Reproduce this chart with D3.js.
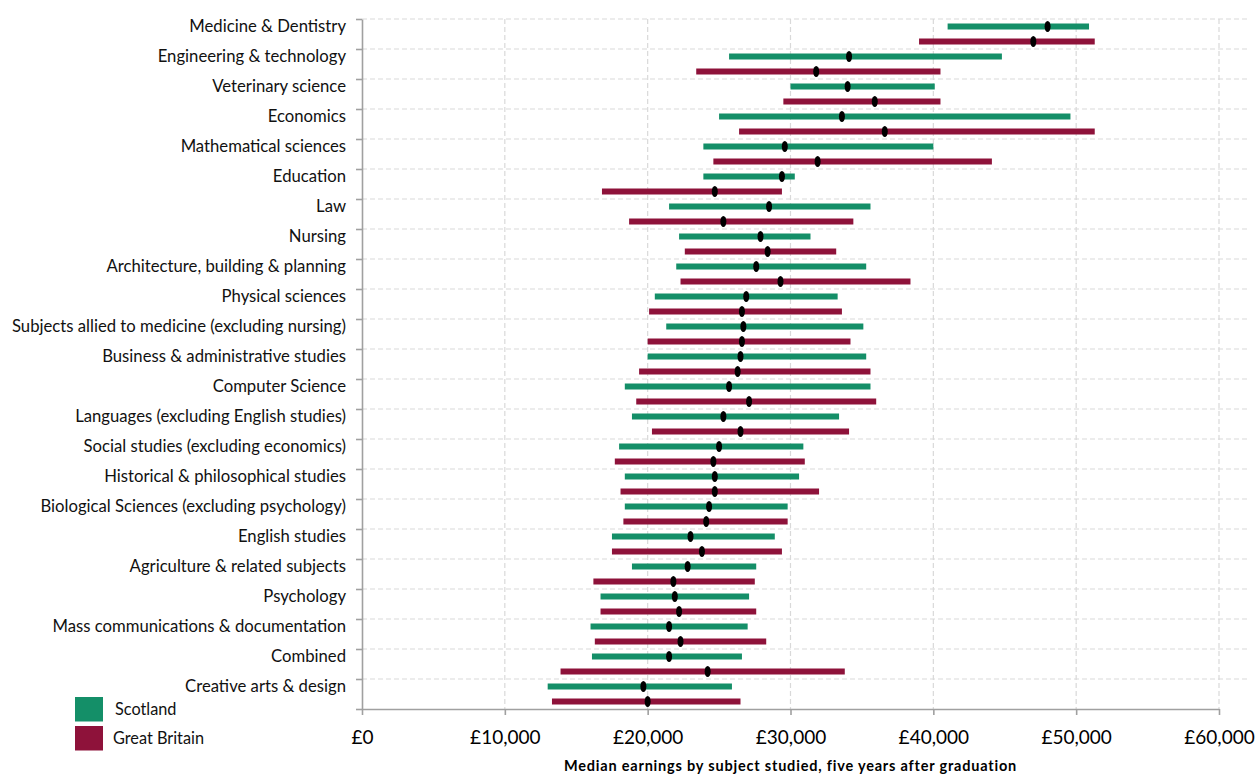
<!DOCTYPE html>
<html>
<head>
<meta charset="utf-8">
<script src="https://cdn.jsdelivr.net/npm/d3@7"></script>
<style>
  body { margin: 0; background: #fff; }
  svg { display: block; font-family: Lato, "Open Sans", sans-serif; }
</style>
</head>
<body>
<div id="chart"></div>
<script>
const subjects = [
  'Medicine & Dentistry', 'Engineering & technology', 'Veterinary science', 'Economics',
  'Mathematical sciences', 'Education', 'Law', 'Nursing', 'Architecture, building & planning',
  'Physical sciences', 'Subjects allied to medicine (excluding nursing)', 'Business & administrative studies',
  'Computer Science', 'Languages (excluding English studies)', 'Social studies (excluding economics)',
  'Historical & philosophical studies', 'Biological Sciences (excluding psychology)', 'English studies',
  'Agriculture & related subjects', 'Psychology', 'Mass communications & documentation', 'Combined',
  'Creative arts & design'
];

// Scotland: lower, median, upper earnings
const scotLow    = [41000, 25700, 30000, 25000, 23900, 23900, 21500, 22200, 22000, 20500, 21300, 20000, 18400, 18900, 18000, 18400, 18400, 17500, 18900, 16700, 16000, 16100, 13000];
const scotMedian = [48000, 34100, 34000, 33600, 29600, 29400, 28500, 27900, 27600, 26900, 26700, 26500, 25700, 25300, 25000, 24700, 24300, 23000, 22800, 21900, 21500, 21500, 19700];
const scotHigh   = [50900, 44800, 40100, 49600, 40000, 30300, 35600, 31400, 35300, 33300, 35100, 35300, 35600, 33400, 30900, 30600, 29800, 28900, 27600, 27100, 27000, 26600, 25900];

// Great Britain
const gbLow    = [39000, 23400, 29500, 26400, 24600, 16800, 18700, 22600, 22300, 20100, 20000, 19400, 19200, 20300, 17700, 18100, 18300, 17500, 16200, 16700, 16300, 13900, 13300];
const gbMedian = [47000, 31800, 35900, 36600, 31900, 24700, 25300, 28400, 29300, 26600, 26600, 26300, 27100, 26500, 24600, 24700, 24100, 23800, 21800, 22200, 22300, 24200, 20000];
const gbHigh   = [51300, 40500, 40500, 51300, 44100, 29400, 34400, 33200, 38400, 33600, 34200, 35600, 36000, 34100, 31000, 32000, 29800, 29400, 27500, 27600, 28300, 33800, 26500];

const xTicks = [0, 10000, 20000, 30000, 40000, 50000, 60000];
const seriesNames = ['Scotland', 'Great Britain'];

const green = '#148f68', red = '#8e123a';
const W = 1257, H = 776;
const m = { left: 362, top: 19, right: 38, bottom: 67 };

const svg = d3.select('#chart').append('svg').attr('width', W).attr('height', H);

const x = d3.scaleLinear().domain([0, 60000]).range([m.left, W - m.right]);
const y = d3.scaleBand().domain(subjects).range([m.top, H - m.bottom]);
const yEdge = d3.scaleLinear().domain([0, subjects.length]).range([m.top, H - m.bottom]);

// gridlines
const grid = svg.append('g').attr('stroke', '#d9d9d9').attr('stroke-width', 1.2).attr('stroke-dasharray', '5,3');
grid.selectAll('line.h').data(d3.range(subjects.length)).join('line')
  .attr('x1', m.left).attr('x2', 1250)
  .attr('y1', d => yEdge(d)).attr('y2', d => yEdge(d));
grid.selectAll('line.v').data(xTicks.slice(1)).join('line')
  .attr('x1', d => x(d)).attr('x2', d => x(d))
  .attr('y1', m.top).attr('y2', H - m.bottom);

// axes
const yAxis = svg.append('g').attr('transform', `translate(${m.left},0)`)
  .call(d3.axisLeft(yEdge).tickValues(d3.range(subjects.length + 1)).tickFormat('').tickSizeInner(6).tickSizeOuter(0));
const xAxis = svg.append('g').attr('transform', `translate(0,${H - m.bottom})`)
  .call(d3.axisBottom(x).tickValues(xTicks).tickFormat(d => '£' + d3.format(',')(d)).tickSizeInner(6).tickSizeOuter(0).tickPadding(16));
[yAxis, xAxis].forEach(a => {
  a.select('.domain').attr('stroke', '#a0a0a0').attr('stroke-width', 1.6);
  a.selectAll('.tick line').attr('stroke', '#a0a0a0').attr('stroke-width', 1.6);
});
xAxis.selectAll('.tick text').attr('font-size', 19).attr('font-family', 'Lato, sans-serif').attr('fill', '#000');

// category labels
svg.append('g').selectAll('text').data(subjects).join('text')
  .attr('x', 346).attr('y', d => y(d) + 7.5).attr('dy', '0.35em')
  .attr('text-anchor', 'end').attr('font-size', 16.7).attr('fill', '#111')
  .text(d => d);

// bars
const series = [
  { low: scotLow, med: scotMedian, high: scotHigh, color: green, off: 7.5 },
  { low: gbLow, med: gbMedian, high: gbHigh, color: red, off: 22.5 }
];
series.forEach(s => {
  const g = svg.append('g');
  g.selectAll('rect').data(subjects).join('rect')
    .attr('x', (d, i) => x(s.low[i]))
    .attr('width', (d, i) => x(s.high[i]) - x(s.low[i]))
    .attr('y', d => y(d) + s.off - 3)
    .attr('height', 6)
    .attr('fill', s.color);
  g.selectAll('ellipse').data(subjects).join('ellipse')
    .attr('cx', (d, i) => x(s.med[i]))
    .attr('cy', d => y(d) + s.off)
    .attr('rx', 3).attr('ry', 5.5)
    .attr('fill', '#000');
});

// legend
const legend = svg.append('g');
seriesNames.forEach((n, i) => {
  legend.append('rect').attr('x', 75).attr('y', 697 + i * 29).attr('width', 28).attr('height', 24.5)
    .attr('fill', i === 0 ? green : red);
  legend.append('text').attr('x', i === 0 ? 115 : 113).attr('y', 709.5 + i * 29).attr('dy', '0.35em')
    .attr('font-size', 16.3).attr('fill', '#111').text(n);
});

// axis title
svg.append('text').attr('x', (x(0) + x(60000)) / 2).attr('y', 766).attr('dy', '0.35em')
  .attr('text-anchor', 'middle').attr('font-size', 14.5).attr('font-weight', 'bold')
  .attr('letter-spacing', 0.8)
  .text('Median earnings by subject studied, five years after graduation');
</script>
</body>
</html>
